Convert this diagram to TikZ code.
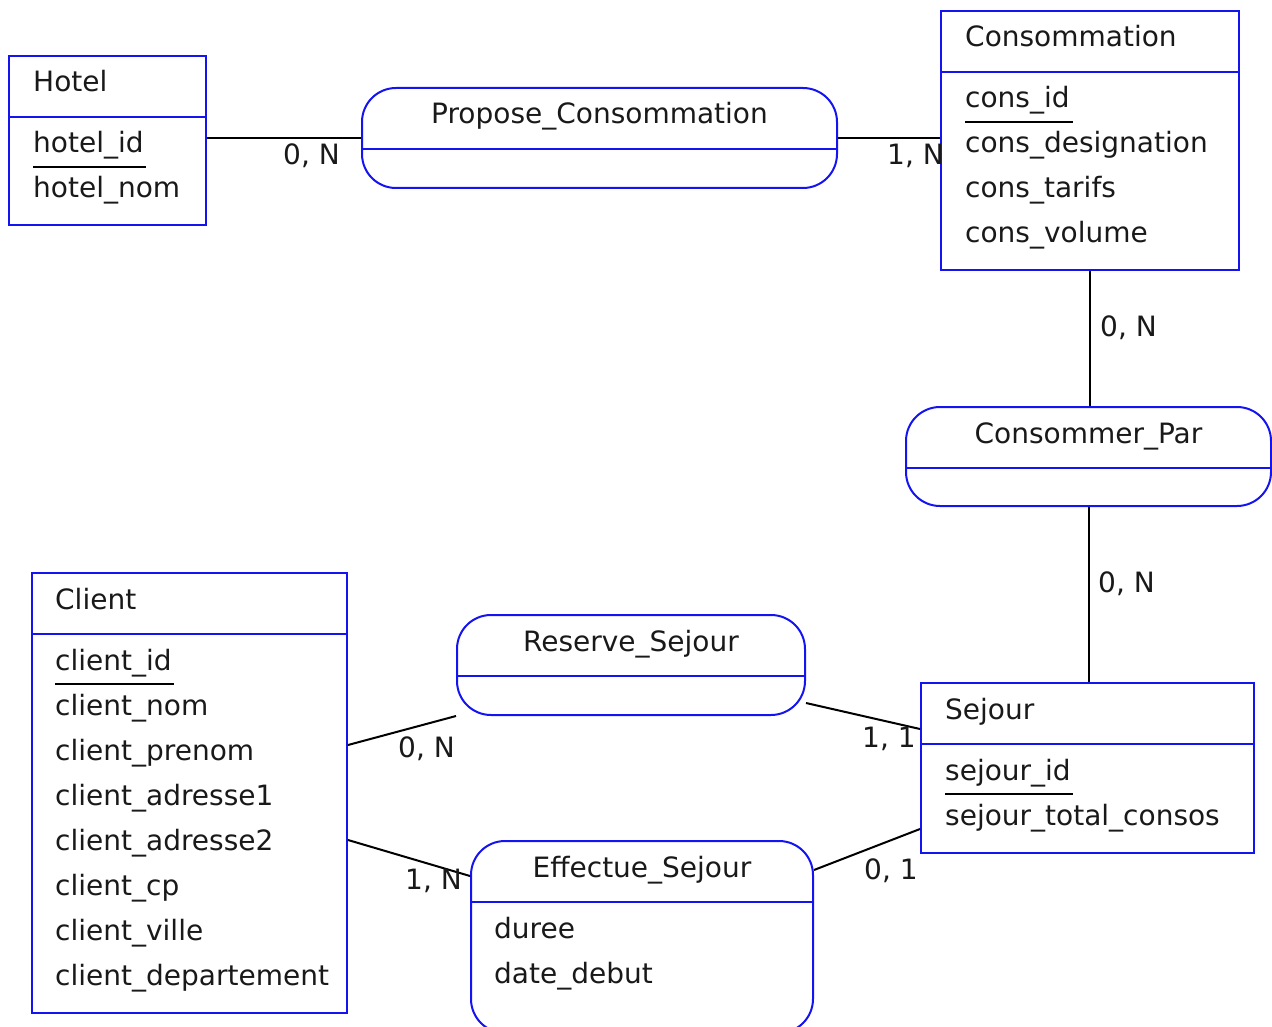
\documentclass[tikz,border=0pt]{standalone}
\usepackage{fontspec}
\setmainfont{DejaVu Sans}
\definecolor{erblue}{RGB}{20,20,240}
\definecolor{ertext}{RGB}{25,25,25}
\begin{document}
\begin{tikzpicture}[x=1pt,y=-1pt,
  box/.style={draw=erblue,line width=2pt,rectangle,inner sep=0pt,anchor=north west},
  ent/.style={box},
  rel/.style={box,rounded corners=34pt},
  fnt/.style={font=\fontsize{28}{30}\selectfont,text=ertext},
  txt/.style={fnt,anchor=base west,inner sep=0pt},
  ctxt/.style={fnt,anchor=base,inner sep=0pt},
  conn/.style={draw=black,line width=2pt},
  divline/.style={draw=erblue,line width=2pt},
  ul/.style={draw=black,line width=1.8pt}]
\useasboundingbox (0,0) rectangle (1272,1027);

% Entities
\node[ent,minimum width=197pt,minimum height=169pt] (hotel) at (8,55) {};
\node[ent,minimum width=298pt,minimum height=259pt] (cons) at (940,10) {};
\node[ent,minimum width=333pt,minimum height=170pt] (sejour) at (920,682) {};
\node[ent,minimum width=315pt,minimum height=440pt] (client) at (31,572) {};

% Relations
\node[rel,minimum width=475pt,minimum height=100pt] (propose) at (361,87) {};
\node[rel,minimum width=365pt,minimum height=99pt] (conspar) at (905,406) {};
\node[rel,minimum width=348pt,minimum height=100pt] (reserve) at (456,614) {};
\node[rel,minimum width=342pt,minimum height=192pt] (effectue) at (470,840) {};

% Dividers
\foreach \n in {hotel,cons,sejour,client,propose,conspar,reserve,effectue}
  \draw[divline] ([yshift=-62pt]\n.north west) -- ([yshift=-62pt]\n.north east);

% Hotel
\node[txt] (hotelT) at (33,92) {Hotel};
\node[txt] (hid) at (33,153) {hotel\_id};
\node[txt] (hnom) at (33,198) {hotel\_nom};
\draw[ul] ([yshift=-14pt]hid.base west) -- ([xshift=2pt,yshift=-14pt]hid.base east);

% Consommation
\node[txt] (consT) at (965,47) {Consommation};
\node[txt] (cid) at (965,108) {cons\_id};
\node[txt] (cdes) at (965,153) {cons\_designation};
\node[txt] (ctar) at (965,198) {cons\_tarifs};
\node[txt] (cvol) at (965,243) {cons\_volume};
\draw[ul] ([yshift=-14pt]cid.base west) -- ([xshift=3pt,yshift=-14pt]cid.base east);

% Sejour
\node[txt] (sejT) at (945,719) {Sejour};
\node[txt] (sid) at (945,780) {sejour\_id};
\node[txt] (stot) at (945,825) {sejour\_total\_consos};
\draw[ul] ([yshift=-14pt]sid.base west) -- ([xshift=2pt,yshift=-14pt]sid.base east);

% Client
\node[txt] (cliT) at (55,609) {Client};
\node[txt] (clid) at (55,670) {client\_id};
\node[txt] (clnom) at (55,715) {client\_nom};
\node[txt] (clpre) at (55,760) {client\_prenom};
\node[txt] (cla1) at (55,805) {client\_adresse1};
\node[txt] (cla2) at (55,850) {client\_adresse2};
\node[txt] (clcp) at (55,895) {client\_cp};
\node[txt] (clvil) at (55,940) {client\_ville};
\node[txt] (cldep) at (55,985) {client\_departement};
\draw[ul] ([yshift=-14pt]clid.base west) -- ([xshift=2pt,yshift=-14pt]clid.base east);

% Relation titles
\node[ctxt] (proposeT) at ([yshift=-37pt]propose.north) {Propose\_Consommation};
\node[ctxt] (consparT) at ([yshift=-37pt]conspar.north) {Consommer\_Par};
\node[ctxt] (reserveT) at ([yshift=-37pt]reserve.north) {Reserve\_Sejour};
\node[ctxt] (effectueT) at ([yshift=-37pt]effectue.north) {Effectue\_Sejour};
\node[txt] (dur) at (494,938) {duree};
\node[txt] (ddeb) at (494,983) {date\_debut};

% Connectors
\draw[conn] (hotel.east |- propose.west) -- (propose.west);
\draw[conn] (propose.east) -- (propose.east -| cons.west);
\draw[conn] (cons.south) -- (cons.south |- conspar.north);
\draw[conn] (conspar.south) -- (conspar.south |- sejour.north);
\draw[conn] ([yshift=48pt]client.east) -- (reserve.south west);
\draw[conn] ([yshift=13pt]reserve.south east) -- ([yshift=-47pt]sejour.north west);
\draw[conn] ([yshift=-47pt]client.east) -- ([yshift=-36pt]effectue.north west);
\draw[conn] ([yshift=-30pt]effectue.north east) -- ([yshift=25pt]sejour.south west);

% Cardinalities
\node[txt] (l1) at (283,165) {0, N};
\node[txt] (l2) at (887,165) {1, N};
\node[txt] (l3) at (1100,336) {0, N};
\node[txt] (l4) at (1098,592) {0, N};
\node[txt] (l5) at (398,757) {0, N};
\node[txt] (l6) at (862,747) {1, 1};
\node[txt] (l7) at (405,889) {1, N};
\node[txt] (l8) at (864,879) {0, 1};
\end{tikzpicture}
\end{document}
